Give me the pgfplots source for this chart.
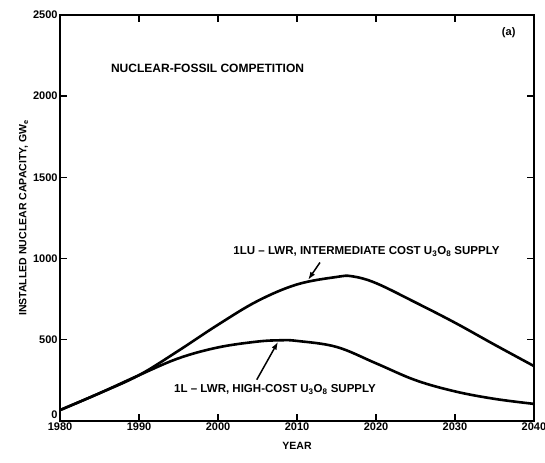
\documentclass[border=0pt]{standalone}
\usepackage{pgfplots}
\pgfplotsset{compat=1.18}
\usepackage{fontspec}
\setmainfont{Liberation Sans}
\usetikzlibrary{arrows.meta}
\begin{document}
\begin{tikzpicture}
\begin{axis}[
  scale only axis,
  width=473pt, height=405pt,
  xmin=1980, xmax=2040, ymin=0, ymax=2500,
  xtick={1980,1990,...,2040},
  ytick={0,500,...,2500},
  yticklabels={\raisebox{12pt}{0},500,1000,1500,2000,2500},
  tick align=inside,
  major tick length=7pt,
  tick style={line width=1.4pt,black},
  axis line style={line width=1.6pt},
  xticklabel style={font=\bfseries\fontsize{11}{12}\selectfont, yshift=1pt},
  yticklabel style={font=\bfseries\fontsize{11}{12}\selectfont, xshift=1pt},
  /pgf/number format/assume math mode=true,
  /pgf/number format/1000 sep={},
  xlabel={\bfseries YEAR},
  ylabel={\bfseries INSTALLED NUCLEAR CAPACITY, GW$_{\mathbf e}$},
  xlabel style={font=\fontsize{10.5}{12}\selectfont, yshift=-4pt},
  ylabel style={font=\fontsize{10.5}{12}\selectfont, yshift=-2pt},
  clip=false,
]
\coordinate (bl) at (rel axis cs:0,0);
\coordinate (tr) at (rel axis cs:1,1);
% 1LU - intermediate cost
\addplot[black, line width=2.6pt, smooth, tension=0.6] coordinates {
(1980,66) (1985,170) (1990,281) (1995,432) (2000,592) (2005,738)
(2010,840) (2015,886) (2017,890) (2020,848) (2025,729) (2030,604)
(2035,469) (2040,337)
};
% 1L - high cost
\addplot[black, line width=2.6pt, smooth, tension=0.6] coordinates {
(1980,66) (1985,170) (1990,281) (1995,385) (2000,452) (2005,488)
(2008,496) (2010,492) (2015,455) (2020,354) (2025,250) (2030,181)
(2035,135) (2040,104)
};
\draw[-{Latex[length=8pt,width=5.5pt]}, line width=1.5pt] (axis cs:2012.9,975) -- (axis cs:2011.4,868);
\draw[-{Latex[length=8pt,width=5.5pt]}, line width=1.5pt] (axis cs:2004.9,253) -- (axis cs:2007.6,487);
\node[anchor=west, font=\bfseries\fontsize{12}{13}\selectfont] at (axis cs:1986.0,2170) {NUCLEAR-FOSSIL COMPETITION};
\node[font=\bfseries\fontsize{11}{12}\selectfont] at (axis cs:2036.8,2392) {(a)};
\node[anchor=west, font=\bfseries\fontsize{11.5}{12}\selectfont] at (axis cs:2001.5,1045) {1LU -- LWR, INTERMEDIATE COST U$_{\mathbf 3}$O$_{\mathbf 8}$ SUPPLY};
\node[anchor=west, font=\bfseries\fontsize{11.5}{12}\selectfont] at (axis cs:1994.0,192) {1L -- LWR, HIGH-COST U$_{\mathbf 3}$O$_{\mathbf 8}$ SUPPLY};
\end{axis}
\pgfresetboundingbox
\path ([shift={(-60pt,-42pt)}]bl) rectangle ([shift={(11pt,15pt)}]tr);
\end{tikzpicture}
\end{document}
